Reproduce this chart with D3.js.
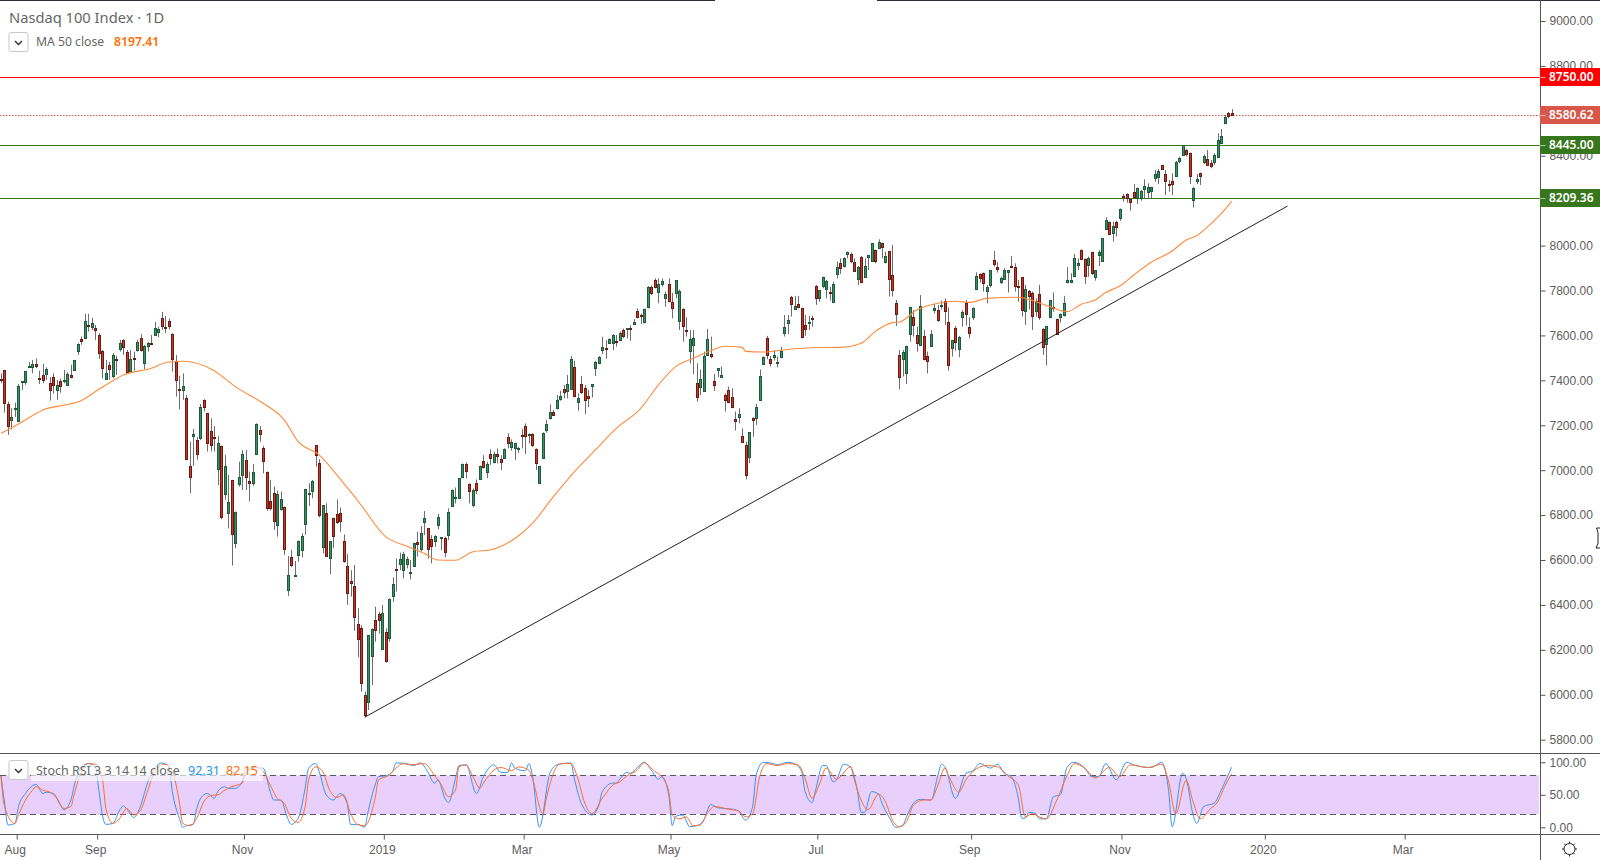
<!DOCTYPE html>
<html>
<head>
<meta charset="utf-8">
<title>Nasdaq 100 Index</title>
<script src="https://cdn.jsdelivr.net/npm/d3@7"></script>
<style>
  html, body { margin: 0; padding: 0; background: #fff; }
  svg { display: block; font-family: "Noto Sans", sans-serif; }
  .tick text { fill: #5d5d5d; font-size: 12px; }
  .tick line, .domain { stroke: #555; }
</style>
</head>
<body>
<div id="chart"></div>
<script>
// daily candles, session 0 = late Jul 2018
const opens = [
  7406,7446,7293,7221,7271,7221,7390,7390,7461,7457,
  7473,7411,7423,7430,7387,7414,7354,7396,7394,7380,
  7423,7443,7528,7583,7586,7647,7635,7632,7601,7529,
  7405,7467,7417,7494,7538,7578,7525,7443,7498,7532,
  7587,7479,7550,7567,7599,7612,7678,7636,7663,7607,
  7485,7360,7354,7320,7017,7150,7133,7141,7311,7253,
  7173,7147,7003,7106,6893,6808,6955,6675,6936,6980,
  7044,6951,6942,7069,7178,7098,6991,6862,6897,6753,
  6826,6835,6467,6612,6528,6620,6644,6759,6893,6906,
  7111,7031,6655,6808,6608,6786,6804,6808,6684,6573,
  6505,6484,6314,6296,5999,5969,6170,6331,6358,6202,
  6278,6250,6437,6558,6579,6552,6579,6539,6570,6679,
  6647,6769,6741,6692,6682,6757,6695,6696,6708,6840,
  6874,6877,6971,7027,6937,6845,6941,6962,7039,6990,
  7072,7033,7072,7050,7055,7146,7100,7097,7096,7156,
  7195,7158,7159,7093,6941,7053,7176,7229,7257,7274,
  7314,7360,7351,7360,7458,7300,7383,7364,7330,7376,
  7452,7475,7535,7544,7563,7565,7573,7582,7622,7627,
  7633,7651,7707,7691,7657,7725,7814,7849,7792,7826,
  7768,7827,7750,7787,7661,7716,7624,7528,7555,7387,
  7369,7354,7513,7516,7396,7443,7414,7333,7356,7325,
  7227,7234,7152,7112,7057,7231,7230,7313,7474,7589,
  7494,7501,7479,7501,7608,7652,7770,7719,7739,7721,
  7645,7657,7678,7820,7764,7817,7805,7793,7750,7871,
  7921,7906,7960,7963,7928,7850,7948,7862,7946,7929,
  7979,7991,8010,7929,7974,7868,7743,7513,7494,7434,
  7609,7684,7601,7556,7596,7507,7552,7713,7712,7733,
  7752,7658,7541,7632,7538,7681,7744,7636,7684,7805,
  7872,7877,7795,7822,7935,7903,7835,7848,7881,7908,
  7905,7820,7859,7706,7796,7788,7706,7783,7629,7559,
  7679,7725,7673,7679,7688,7835,7835,7865,7911,7980,
  7940,7911,7970,7857,7955,7929,8071,8104,8056,8105,
  8120,8219,8228,8209,8237,8211,8211,8249,8237,8240,
  8303,8303,8357,8317,8274,8286,8307,8374,8403,8424,
  8411,8200,8289,8322,8369,8387,8366,8369,8392,8458,
  8543,8589,8589
];
const highs = [
  7431,7446,7305,7276,7301,7384,7396,7440,7482,7491,
  7498,7443,7473,7458,7414,7431,7402,7408,7446,7436,
  7469,7491,7565,7595,7696,7696,7678,7647,7610,7535,
  7491,7483,7521,7509,7580,7583,7535,7535,7528,7580,
  7607,7558,7571,7602,7660,7639,7705,7687,7676,7610,
  7513,7420,7431,7335,7126,7184,7147,7295,7316,7256,
  7231,7197,7152,7109,7068,6979,6957,6816,7038,7090,
  7090,6994,7028,7209,7197,7108,6994,6957,6927,6909,
  6905,6838,6618,6645,6596,6687,6719,6917,6942,6957,
  7112,7049,6844,6853,6684,6789,6870,6834,6714,6627,
  6555,6578,6386,6310,6014,6266,6296,6392,6370,6400,
  6296,6429,6523,6607,6633,6637,6615,6600,6677,6726,
  6751,6818,6741,6711,6711,6805,6701,6704,6830,6915,
  6923,6964,7030,7035,6941,6919,6959,7021,7067,7038,
  7093,7082,7097,7067,7097,7164,7137,7122,7104,7182,
  7208,7164,7164,7097,7020,7168,7223,7293,7268,7335,
  7354,7379,7424,7508,7487,7342,7419,7379,7357,7383,
  7487,7508,7594,7579,7587,7606,7602,7618,7631,7631,
  7646,7673,7720,7698,7719,7820,7823,7854,7854,7854,
  7795,7854,7790,7847,7805,7721,7681,7624,7624,7476,
  7449,7528,7629,7595,7428,7454,7461,7342,7372,7365,
  7261,7276,7186,7127,7170,7236,7295,7449,7506,7598,
  7509,7535,7506,7550,7691,7691,7776,7776,7776,7724,
  7691,7687,7688,7825,7802,7862,7847,7817,7840,7929,
  7943,7948,7973,7969,7943,7909,7954,7943,7957,8010,
  7983,8028,8013,7973,7977,8003,7758,7535,7535,7555,
  7728,7713,7639,7780,7624,7528,7624,7740,7736,7755,
  7765,7725,7580,7642,7598,7713,7758,7681,7725,7881,
  7877,7880,7825,7891,7976,7926,7862,7899,7891,7954,
  7921,7847,7859,7825,7802,7795,7765,7825,7632,7642,
  7758,7791,7675,7698,7776,7905,7877,7963,7943,7983,
  7943,7951,7973,7891,7980,8032,8126,8107,8107,8111,
  8165,8230,8233,8211,8274,8258,8248,8295,8277,8262,
  8337,8341,8359,8337,8292,8322,8377,8396,8448,8429,
  8414,8260,8319,8325,8406,8426,8381,8411,8500,8519,
  8582,8595,8608
];
const lows = [
  7387,7256,7157,7182,7236,7221,7357,7380,7458,7431,
  7454,7384,7387,7402,7310,7342,7313,7345,7387,7375,
  7409,7443,7513,7558,7586,7617,7624,7580,7495,7408,
  7402,7402,7409,7424,7528,7513,7431,7434,7443,7528,
  7528,7449,7528,7556,7598,7592,7624,7610,7627,7439,
  7328,7271,7313,7044,6897,7019,7046,7135,7261,7083,
  7083,7083,6934,6781,6868,6741,6575,6652,6927,6912,
  6912,6860,6930,7068,7127,6986,6820,6820,6734,6704,
  6820,6623,6440,6568,6526,6593,6612,6712,6841,6875,
  7016,6790,6630,6615,6537,6652,6761,6726,6588,6401,
  6437,6285,6167,6014,5900,5932,6043,6236,6273,6199,
  6143,6236,6414,6459,6555,6518,6563,6514,6570,6615,
  6637,6711,6606,6585,6659,6736,6644,6612,6689,6837,
  6852,6874,6968,6964,6852,6834,6894,6959,7008,6964,
  7023,7030,7030,7001,7053,7097,7087,7045,7078,7097,
  7072,7119,7104,7001,6938,7051,7167,7226,7242,7271,
  7309,7320,7320,7357,7324,7265,7339,7250,7280,7324,
  7419,7472,7517,7496,7562,7535,7550,7576,7587,7587,
  7576,7646,7676,7651,7654,7720,7780,7809,7743,7817,
  7728,7747,7676,7765,7624,7572,7595,7476,7428,7305,
  7335,7354,7509,7498,7353,7414,7414,7261,7298,7276,
  7176,7209,7127,6959,7031,7149,7201,7310,7468,7494,
  7461,7488,7458,7498,7595,7606,7684,7716,7721,7587,
  7598,7624,7639,7736,7750,7810,7765,7755,7746,7854,
  7874,7903,7943,7921,7884,7825,7832,7859,7891,7929,
  7921,7988,7943,7921,7773,7773,7642,7360,7417,7384,
  7572,7595,7528,7553,7489,7431,7550,7698,7661,7716,
  7647,7443,7506,7532,7503,7639,7644,7587,7669,7802,
  7835,7795,7743,7813,7906,7880,7829,7847,7791,7899,
  7795,7750,7684,7647,7716,7624,7684,7669,7513,7466,
  7676,7706,7602,7657,7684,7832,7832,7862,7891,7936,
  7829,7862,7869,7844,7909,7927,8070,8047,8018,8040,
  8111,8196,8191,8156,8213,8185,8200,8211,8211,8211,
  8285,8274,8337,8225,8240,8225,8307,8366,8399,8396,
  8274,8169,8274,8270,8363,8359,8344,8359,8389,8455,
  8541,8567,8580
];
const closes = [
  7403,7298,7194,7236,7276,7375,7396,7440,7464,7472,
  7466,7408,7402,7451,7354,7377,7378,7372,7400,7427,
  7412,7489,7561,7572,7663,7642,7654,7621,7523,7452,
  7431,7449,7512,7489,7565,7546,7434,7497,7494,7569,
  7532,7553,7565,7564,7632,7627,7644,7630,7639,7494,
  7399,7354,7374,7047,6968,7160,7069,7280,7280,7120,
  7111,7141,7120,6789,7017,6857,6713,6814,6968,7072,
  6968,6942,6991,7204,7160,7038,6829,6833,6771,6893,
  6870,6648,6533,6575,6534,6684,6706,6915,6897,6951,
  7066,6799,6844,6617,6684,6706,6767,6771,6597,6452,
  6496,6345,6247,6051,5910,6266,6291,6285,6330,6362,
  6147,6425,6492,6552,6603,6625,6603,6545,6674,6668,
  6719,6787,6647,6659,6705,6791,6701,6633,6812,6912,
  6879,6964,7027,6998,6904,6914,6909,7018,7014,7026,
  7054,7070,7064,7038,7093,7119,7124,7119,7101,7153,
  7149,7161,7112,7029,7017,7164,7204,7257,7244,7311,
  7329,7348,7382,7493,7327,7320,7349,7311,7323,7383,
  7480,7502,7547,7541,7582,7600,7567,7612,7594,7631,
  7630,7659,7679,7688,7716,7814,7786,7817,7827,7841,
  7784,7750,7725,7845,7796,7639,7618,7583,7587,7324,
  7405,7509,7583,7506,7376,7454,7422,7311,7301,7280,
  7216,7249,7127,6979,7170,7221,7280,7420,7503,7514,
  7476,7512,7482,7529,7636,7667,7737,7731,7724,7590,
  7627,7660,7672,7768,7801,7859,7841,7788,7829,7903,
  7899,7943,7970,7930,7890,7905,7836,7909,7957,8010,
  7930,8018,7991,7954,7850,7801,7693,7417,7525,7552,
  7727,7648,7565,7730,7492,7485,7605,7722,7666,7736,
  7706,7467,7578,7569,7592,7703,7693,7609,7722,7863,
  7854,7832,7814,7890,7915,7893,7854,7890,7890,7902,
  7822,7817,7710,7805,7774,7684,7752,7682,7550,7641,
  7756,7721,7605,7694,7743,7845,7845,7943,7921,7942,
  7866,7943,7875,7890,7970,8032,8113,8049,8087,8084,
  8162,8213,8211,8196,8216,8255,8243,8264,8260,8260,
  8319,8331,8340,8285,8268,8271,8371,8389,8446,8405,
  8308,8255,8297,8307,8397,8362,8351,8402,8469,8487,
  8571,8574,8580.62
];

// MA 50, read at these sessions
const maIdx = [0,5,12,23,28,35,43,48,52,61,67,75,81,85,91,97,103,110,116,121,125,130,135,140,147,152,158,164,170,176,183,188,193,198,203,207,212,213,218,227,234,240,246,250,255,257,262,268,273,277,282,291,296,300,305,309,313,316,320,324,329,335,339,342,346,350,352];
const maVals = [7164,7206,7268,7310,7360,7424,7454,7482,7485,7443,7372,7298,7224,7127,7068,6961,6845,6704,6662,6630,6600,6599,6637,6645,6696,6763,6882,6993,7090,7186,7275,7379,7461,7498,7532,7552,7547,7529,7526,7541,7546,7547,7565,7617,7657,7660,7713,7743,7752,7747,7765,7770,7750,7728,7706,7739,7758,7791,7820,7869,7926,7976,8025,8044,8096,8159,8197.41];

// Stoch RSI turning points
const stochKIdx = [0,1,2,4,5,7,9,10,12,13,15,17,18,20,21,23,25,27,28,29,30,32,34,35,36,38,40,42,44,46,48,49,51,52,53,55,56,58,59,61,62,64,65,67,69,70,72,75,77,78,80,82,83,85,87,88,90,91,93,95,97,99,100,102,104,105,107,108,110,112,113,116,118,120,122,124,125,127,128,130,131,133,136,138,141,143,145,146,147,150,151,152,154,157,159,163,164,166,169,171,172,175,176,
  177,179,180,182,184,186,188,189,191,192,193,195,197,199,201,203,205,209,211,213,215,216,218,221,222,225,227,229,230,232,233,235,236,238,239,241,243,245,246,247,249,251,252,254,256,258,259,261,263,266,268,269,270,273,276,278,280,283,285,287,289,291,292,293,294,296,297,299,301,303,305,307,310,312,314,316,319,322,324,329,332,334,335,338,339,341,342,344,347,349,352];
const stochK = [79,39,3.5,6,32,52,64,66,52,54,52,34,27,42,65,93,98,93,57,19,4.5,6,27,33,28,15,34,70,91,99,93,55,14,0,2.5,4.5,29,50,52,44.5,55,62.5,60,60,70,88,92,91,55,42,42,14,4.5,14,60,91,98,86,50,42,52,37,4.5,4.5,0,24,65,78,79,86,99,98,95,99,86,68,73,44.5,38,75,95,96,52,78,96,84.5,84.5,99,91,87,98,80,0,83,96,99,75,37,19,34,55,68,68,
  74,84.5,83,92,100,88,74,78,50,2.5,17,19,1,2.5,11,35,30,28,25,11,32,80,100,98,96,100,98,86,55,38,57,95,95,70,73,97,93,55,23,23,55,51,37,16,0,3.5,16,37,43,42,80,97,93,44.5,83,87,98,91,97,83,78,44.5,14,14,23,21,13,13,47,50,93,100,91,78,78,98,73,100,96,92,100,55,1,83,75,19,6,32,37,57,92.31];
const stochDIdx = [0,1,4,5,7,9,10,12,14,16,18,20,21,23,25,27,29,30,32,34,36,38,40,42,44,47,49,51,52,54,56,58,60,62,64,66,69,70,73,75,77,79,81,83,85,87,88,90,92,94,96,98,100,102,104,107,108,111,113,115,117,121,124,126,128,130,131,133,135,137,138,141,143,146,148,151,152,155,156,158,160,163,165,167,169,172,175,
  177,179,182,184,187,189,191,192,194,196,198,200,202,204,208,211,213,215,217,219,222,225,228,230,232,234,236,239,243,244,246,248,251,253,255,257,259,261,264,266,268,270,271,274,276,278,282,285,288,291,293,295,297,299,302,305,307,310,313,317,320,323,328,332,334,336,339,341,343,346,348,350,352];
const stochD = [79,32,6,19,42,57,62.5,57,54,44.5,29,32,52,86,98,97,75,29,6,14,29,19,27,57,86,97,86,39,6,2.5,14,39,49,50,57,62.5,68,83,92,86,65,44.5,37,14,7.6,32,73,93,86,57,46,50,21,4.5,2.5,44.5,73,80,91,98,96,98,80,65,47,57,93,96,78,60,68,88,92,87,93,88,75,21,44.5,83,98,98,75,37,21,44.5,65,
  70,79,88,99,86,78,55,19,13,16,2.5,3.5,21,32,28,25,16,21,78,98,95,98,96,75,44.5,65,91,74,93,75,42,27,51,39,11,1,8.6,34,42,42,65,91,80,54,73,86,95,93,79,65,16,21,16,13,42,80,98,91,76,92,78,96,92,97,70,21,72,39,13,29,39,62.5,82.15];

// 8600 and 8200 sit fully under the price labels
const priceTicks = [5800,6000,6200,6400,6600,6800,7000,7200,7400,7600,7800,8000,8400,8800,9000];
const stochTicks = [0, 50, 100];
const timeIdx = [4.5,27.5,69.5,109.5,149.5,191.5,233.5,277.5,320.5,361.5,401.5];
const timeLabels = ["Aug","Sep","Nov","2019","Mar","May","Jul","Sep","Nov","2020","Mar"];

// drawn levels
const resistance = 8750;
const lastClose = 8580.62;
const supports = [8445, 8209.36];
const trendIdx = [104, 368];
const trendVals = [5900, 8176];

const width = 1600, height = 860;
const axisX = 1540.5;
const mainBottom = 753.5, stochBottom = 834.5;

const x = d3.scaleLinear().domain([0, 352]).range([1, 1231.6]);
const y = d3.scaleLinear().domain([5800, 9000]).range([739.7, 21]);
const yS = d3.scaleLinear().domain([0, 100]).range([827.3, 762.3]);

const svg = d3.select("#chart").append("svg").attr("width", width).attr("height", height);

svg.append("clipPath").attr("id", "clipMain").append("rect").attr("width", axisX).attr("height", mainBottom);
svg.append("clipPath").attr("id", "clipStoch").append("rect")
  .attr("y", mainBottom).attr("width", axisX).attr("height", stochBottom - mainBottom);

// frame
svg.append("path").attr("d", `M0,0.5H715M877,0.5H${width}`).attr("stroke", "#2a2e39").attr("fill", "none");
svg.append("path").attr("d", `M0,${mainBottom}H${width}M0,${stochBottom}H${width}`).attr("stroke", "#555").attr("fill", "none");
svg.append("path").attr("d", `M${axisX},0V${height}`).attr("stroke", "#555").attr("fill", "none");

// axes
svg.append("g").attr("transform", `translate(${axisX},0)`)
  .call(d3.axisRight(y).tickValues(priceTicks).tickFormat(d3.format(".2f")).tickSize(5).tickPadding(4))
  .call(g => g.select(".domain").remove());
svg.append("g").attr("transform", `translate(${axisX},0)`)
  .call(d3.axisRight(yS).tickValues(stochTicks).tickFormat(d3.format(".2f")).tickSize(5).tickPadding(4))
  .call(g => g.select(".domain").remove());
svg.append("g").attr("transform", `translate(0,${stochBottom})`)
  .call(d3.axisBottom(x).tickValues(timeIdx).tickFormat((d, i) => timeLabels[i]).tickSize(5).tickPadding(6))
  .call(g => g.select(".domain").remove())
  .call(g => g.selectAll("text").attr("dx", -2));

// main pane
const main = svg.append("g").attr("clip-path", "url(#clipMain)");

function hline(value, color, dash) {
  main.append("line").attr("x1", 0).attr("x2", axisX)
    .attr("y1", Math.floor(y(value)) + 0.5).attr("y2", Math.floor(y(value)) + 0.5)
    .attr("stroke", color).attr("stroke-dasharray", dash || null);
}
hline(resistance, "#ff0000");
hline(lastClose, "#d9574a", "1.5,1.5");
supports.forEach(v => hline(v, "#38761d"));

// candles
const candleData = d3.range(opens.length);
const wickX = i => Math.round(x(i)) + 0.5;
main.append("g").selectAll("line").data(candleData).enter().append("line")
  .attr("x1", wickX).attr("x2", wickX)
  .attr("y1", i => y(highs[i])).attr("y2", i => y(lows[i]))
  .attr("stroke", "#6e6e6e");
main.append("g").selectAll("rect").data(candleData).enter().append("rect")
  .attr("x", i => wickX(i) - 1)
  .attr("width", 2)
  .attr("y", i => Math.round(y(Math.max(opens[i], closes[i]))) + 0.5)
  .attr("height", i => Math.max(1, Math.round(Math.abs(y(opens[i]) - y(closes[i])))))
  .attr("fill", i => closes[i] >= opens[i] ? "#3d8f66" : "#c8372a")
  .attr("stroke", i => closes[i] >= opens[i] ? "#1d5a3a" : "#6b1a12");

// MA 50
main.append("path")
  .attr("d", d3.line().curve(d3.curveMonotoneX).x(i => x(maIdx[i])).y(i => y(maVals[i]))(d3.range(maIdx.length)))
  .attr("fill", "none").attr("stroke", "#ff8a3d").attr("stroke-width", 1.1);

// trend line
main.append("line")
  .attr("x1", x(trendIdx[0])).attr("y1", y(trendVals[0]))
  .attr("x2", x(trendIdx[1])).attr("y2", y(trendVals[1]))
  .attr("stroke", "#222").attr("stroke-width", 1);

// stoch pane
const stoch = svg.append("g").attr("clip-path", "url(#clipStoch)");
stoch.append("rect").attr("x", 0).attr("width", axisX - 1.5)
  .attr("y", yS(80)).attr("height", yS(20) - yS(80)).attr("fill", "#e9d0fc");
[80, 20].forEach(v => {
  stoch.append("line").attr("x1", 0).attr("x2", axisX - 1)
    .attr("y1", Math.round(yS(v)) + 0.5).attr("y2", Math.round(yS(v)) + 0.5)
    .attr("stroke", "#5a5360").attr("stroke-dasharray", "6,4");
});
function stochLine(idx, vals, color) {
  stoch.append("path")
    .attr("d", d3.line().curve(d3.curveMonotoneX).x(i => x(idx[i])).y(i => yS(vals[i]))(d3.range(idx.length)))
    .attr("fill", "none").attr("stroke", color).attr("stroke-width", 1);
}
stochLine(stochKIdx, stochK, "#3a93f2");
stochLine(stochDIdx, stochD, "#ff6d2a");

// price labels
function priceLabel(value, bg) {
  const top = Math.floor(y(value)) - 9;
  svg.append("rect").attr("x", axisX - 0.5).attr("y", top).attr("width", width - axisX + 0.5).attr("height", 18).attr("fill", bg);
  svg.append("line").attr("x1", axisX - 1).attr("x2", axisX + 5).attr("y1", top + 9.5).attr("y2", top + 9.5).attr("stroke", "#fff").attr("stroke-opacity", 0.6);
  svg.append("text").attr("x", 1549).attr("y", top + 13).attr("fill", "#fff")
    .style("font-size", "12px").style("font-weight", 600).text(d3.format(".2f")(value));
}
priceLabel(resistance, "#ff0000");
priceLabel(lastClose, "#d9574a");
supports.forEach(v => priceLabel(v, "#38761d"));

// legends
function legendButton(bx, by) {
  svg.append("rect").attr("x", bx + 0.5).attr("y", by + 0.5).attr("width", 19).attr("height", 19).attr("rx", 2)
    .attr("fill", "#fff").attr("stroke", "#c8c8c8");
  svg.append("path").attr("d", `M${bx + 6.5},${by + 9}l3.5,3.5l3.5,-3.5`).attr("fill", "none").attr("stroke", "#333").attr("stroke-width", 1.4);
}
svg.append("text").attr("x", 9).attr("y", 23).attr("fill", "#666").style("font-size", "14.7px").text("Nasdaq 100 Index · 1D");
legendButton(8.5, 32);
svg.append("text").attr("x", 36).attr("y", 46).attr("fill", "#666").style("font-size", "12.2px").text("MA 50 close");
svg.append("text").attr("x", 114).attr("y", 46).attr("fill", "#ff6d00").style("font-size", "12.2px").style("font-weight", 600).text("8197.41");

svg.append("rect").attr("x", 31).attr("y", 765).attr("width", 232).attr("height", 16).attr("fill", "#fff").attr("fill-opacity", 0.65);
legendButton(8.5, 760);
svg.append("text").attr("x", 36).attr("y", 775).attr("fill", "#666").style("font-size", "12.5px").text("Stoch RSI 3 3 14 14 close");
svg.append("text").attr("x", 188).attr("y", 775).attr("fill", "#2196f3").style("font-size", "12.5px").text("92.31");
svg.append("text").attr("x", 226).attr("y", 775).attr("fill", "#ff6d00").style("font-size", "12.5px").text("82.15");

// settings gear
const gear = svg.append("g").attr("transform", "translate(1569.5,849)").attr("stroke", "#222").attr("fill", "none");
gear.append("circle").attr("r", 5.5);
d3.range(8).forEach(i => {
  const a = i * Math.PI / 4;
  gear.append("line").attr("x1", 5.5 * Math.cos(a)).attr("y1", 5.5 * Math.sin(a))
    .attr("x2", 7.5 * Math.cos(a)).attr("y2", 7.5 * Math.sin(a));
});

// mouse cursor left on the price scale
svg.append("path").attr("d", "M1600,528h-3.5l1.5,4.5v11l-2,4.5h4").attr("stroke", "#222").attr("fill", "#fff");
</script>
</body>
</html>
